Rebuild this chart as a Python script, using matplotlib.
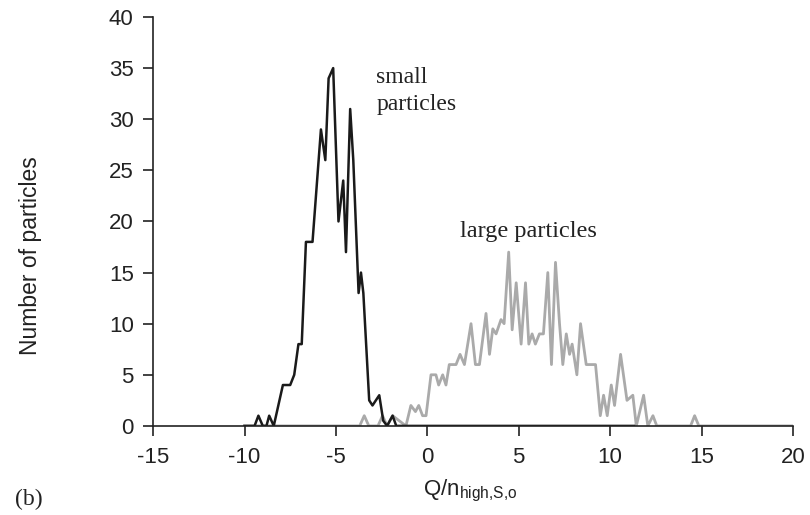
import numpy as np
import matplotlib
matplotlib.use("Agg")
import matplotlib.pyplot as plt

plt.rcParams["axes.unicode_minus"] = False
plt.rcParams["mathtext.fontset"] = "custom"
plt.rcParams["mathtext.rm"] = "Liberation Sans"
plt.rcParams["mathtext.it"] = "Liberation Sans:italic"

# small particles (black curve)
small_q = [-10.0, -9.45, -9.24, -9.0, -8.8, -8.65, -8.4, -7.9, -7.5, -7.28, -7.05,
           -6.87, -6.64, -6.28, -5.82, -5.58, -5.4, -5.15, -4.86, -4.6, -4.45,
           -4.22, -4.05, -3.76, -3.63, -3.5, -3.18, -3.0, -2.63, -2.41, -2.2,
           -1.9, -1.7, -1.0, 2.0, 6.0, 11.3]
small_n = [0, 0, 1, 0, 0, 1, 0, 4, 4, 5, 8,
           8, 18, 18, 29, 26, 34, 35, 20, 24, 17,
           31, 26, 13, 15, 13, 2.5, 2, 3, 0.5, 0,
           1, 0, 0, 0, 0, 0]

# large particles (grey curve)
large_q = [-10.0, -3.7, -3.45, -3.2, -2.7, -2.45, -2.2, -1.9, -1.17, -0.9, -0.65,
           -0.47, -0.26, -0.07, 0.2, 0.47, 0.62, 0.84, 1.02, 1.2, 1.57,
           1.79, 2.03, 2.39, 2.63, 2.85, 3.21, 3.4, 3.58, 3.76, 4.03,
           4.2, 4.45, 4.64, 4.86, 5.13, 5.37, 5.55, 5.73, 5.91, 6.13,
           6.35, 6.59, 6.79, 7.01, 7.23, 7.41, 7.6, 7.78, 7.92, 8.18,
           8.38, 8.69, 8.93, 9.2, 9.46, 9.64, 9.84, 10.06, 10.24, 10.57,
           10.92, 11.24, 11.43, 11.83, 12.06, 12.34, 12.55, 14.4, 14.62, 14.85,
           20.0]
large_n = [0, 0, 1, 0, 0, 1, 0, 1, 0, 2, 1.4,
           2, 1, 1, 5, 5, 4, 5, 4, 6, 6,
           7, 6, 10, 6, 6, 11, 7, 9.5, 9, 10.4,
           10, 17, 9.4, 14, 8, 14, 8, 9, 8, 9,
           9, 15, 6, 16, 10, 6, 9, 7, 8, 5,
           10, 6, 6, 6, 1, 3, 1, 4, 2, 7,
           2.5, 3, 0, 3, 0, 1, 0, 0, 1, 0,
           0]

xticks = [-15, -10, -5, 0, 5, 10, 15, 20]
yticks = [0, 5, 10, 15, 20, 25, 30, 35, 40]

fig = plt.figure(figsize=(8.1, 5.15), dpi=100)
ax = fig.add_axes([0.189, 0.173, 0.790, 0.794])

ax.plot(large_q, large_n, color="#aaaaaa", lw=2.0)
ax.plot(small_q, small_n, color="#1a1a1a", lw=1.8)

ax.set_xlim(-15, 20)
ax.set_ylim(0, 40)
ax.set_xticks(xticks)
ax.set_yticks(yticks)
ax.spines["top"].set_visible(False)
ax.spines["right"].set_visible(False)
for s in ("left", "bottom"):
    ax.spines[s].set_linewidth(1.2)
    ax.spines[s].set_color("#222222")
ax.tick_params(direction="out", length=7, width=1.2, color="#222222",
               labelsize=16, labelcolor="#222222")
ax.tick_params(axis="x", pad=8)
ax.tick_params(axis="y", pad=7)
for lab in ax.get_xticklabels() + ax.get_yticklabels():
    lab.set_family("Liberation Sans")

ax.set_xlabel(r"Q/n$_{\mathrm{high{,}S{,}o}}$", fontsize=16, family="Liberation Sans",
              color="#222222")
ax.xaxis.set_label_coords(0.495, -0.128)
ax.set_ylabel("Number of particles", fontsize=16.5, family="Liberation Sans",
              color="#222222")
ax.yaxis.set_label_coords(-0.173, 0.416)

ax.text(-2.8, 30.9, "small\nparticles", fontsize=17, family="Liberation Serif",
        color="#222222", va="baseline", linespacing=1.4)
ax.text(1.8, 18.5, "large particles", fontsize=17.5, family="Liberation Serif",
        color="#222222", va="baseline")
fig.text(0.019, 0.02, "(b)", fontsize=17, family="Liberation Serif", color="#222222")

fig.savefig("out.png", dpi=100)
